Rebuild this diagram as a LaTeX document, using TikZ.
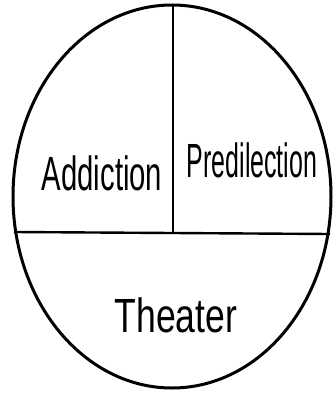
\documentclass[tikz,border=0pt]{standalone}
\usepackage{fontspec}
\setmainfont{Liberation Sans}
\usetikzlibrary{shapes.geometric}
\begin{document}
\begin{tikzpicture}[x=1pt,y=-1pt,
  outline/.style={line width=3pt},
  divider/.style={line width=2.4pt},
  label/.style={anchor=base,inner sep=0pt,font=\fontsize{48}{56}\selectfont}]
\useasboundingbox (0,0) rectangle (333,396);
\node[draw,outline,ellipse,minimum width=318pt,minimum height=383pt,inner sep=0pt] (oval) at (172,196.5) {};
\coordinate (left) at (14,232);
\coordinate (right) at (330,234);
\coordinate (top) at (173,5);
\coordinate (mid) at (173,232.8);
\draw[divider] (left) -- (right);
\draw[divider] (top) -- (mid);
\node[label] (addiction) at (102,190) {\scalebox{0.61}[1]{Addiction}};
\node[label] (predilection) at (252,177) {\scalebox{0.52}[1]{Predilection}};
\node[label] (theater) at (176,332) {\scalebox{0.74}[1]{Theater}};
\end{tikzpicture}
\end{document}
